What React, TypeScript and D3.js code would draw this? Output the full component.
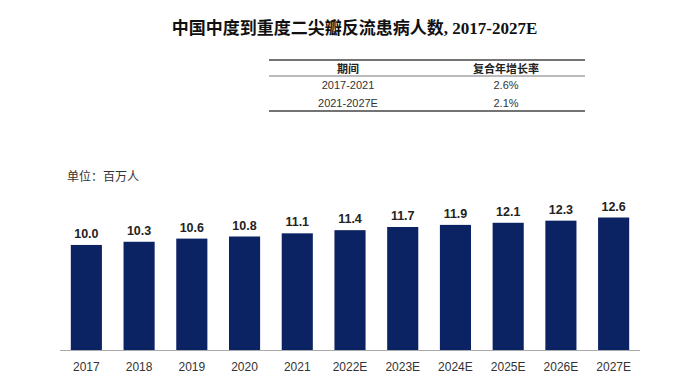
import React from "react";
import * as d3 from "d3";

const categories = ["2017", "2018", "2019", "2020", "2021", "2022E", "2023E", "2024E", "2025E", "2026E", "2027E"];
const values = [10.0, 10.3, 10.6, 10.8, 11.1, 11.4, 11.7, 11.9, 12.1, 12.3, 12.6];
const tableHeader = ["期间", "复合年增长率"];
const tablePeriods = ["2017-2021", "2021-2027E"];
const tableRates = ["2.6%", "2.1%"];
const title = "中国中度到重度二尖瓣反流患病人数, 2017-2027E";
const unitLabel = "单位：百万人";

export default function App() {
  const W = 680, H = 382;
  const x = d3.scaleBand<string>().domain(categories).range([60, 640]).paddingInner(0.41).paddingOuter(0.205);
  const y = d3.scaleLinear().domain([0, 12.6]).range([350.5, 217.5]);
  const sans = "Arial, 'Liberation Sans', 'Noto Sans CJK SC', sans-serif";
  return (
    <svg width={W} height={H} style={{ position: "absolute", left: 0, top: 0, background: "#fff" }}>
      <text x={354.5} y={34} textAnchor="middle" fontFamily="'Liberation Serif', 'Times New Roman', 'Noto Sans CJK SC', serif" fontWeight="bold" fontSize={17} fill="#111">{title}</text>
      <line x1={269} x2={585} y1={60} y2={60} stroke="#444" strokeWidth={1.5} />
      <line x1={269} x2={585} y1={76} y2={76} stroke="#777" strokeWidth={1} />
      <line x1={269} x2={585} y1={111} y2={111} stroke="#444" strokeWidth={1.5} />
      <text x={348} y={73} textAnchor="middle" fontFamily={sans} fontWeight="bold" fontSize={11} fill="#222">{tableHeader[0]}</text>
      <text x={506} y={73} textAnchor="middle" fontFamily={sans} fontWeight="bold" fontSize={11} fill="#222">{tableHeader[1]}</text>
      {tablePeriods.map((p, i) => (
        <g key={p}>
          <text x={348} y={89 + i * 18} textAnchor="middle" fontFamily={sans} fontSize={11} fill="#333">{p}</text>
          <text x={506} y={89 + i * 18} textAnchor="middle" fontFamily={sans} fontSize={11} fill="#333">{tableRates[i]}</text>
        </g>
      ))}
      <text x={67} y={181} fontFamily={sans} fontSize={12} fill="#333">{unitLabel}</text>
      {categories.map((c, i) => {
        const bx = x(c)!;
        const bw = x.bandwidth();
        return (
          <g key={c}>
            <rect x={bx} y={y(values[i])} width={bw} height={y(0) - y(values[i])} fill="#0b2263" />
            <text x={bx + bw / 2} y={y(values[i]) - 7} textAnchor="middle" fontFamily={sans} fontWeight="bold" fontSize={12.5} fill="#222">{values[i].toFixed(1)}</text>
            <text x={bx + bw / 2} y={371} textAnchor="middle" fontFamily={sans} fontSize={12} fill="#333">{c}</text>
          </g>
        );
      })}
      <line x1={60} x2={640} y1={350.5} y2={350.5} stroke="#aaa" strokeWidth={1} />
    </svg>
  );
}
